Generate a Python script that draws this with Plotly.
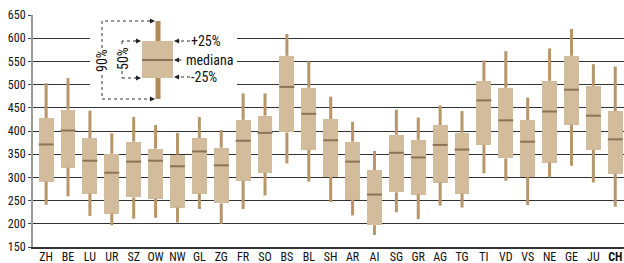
import plotly.graph_objects as go

cats = ["ZH","BE","LU","UR","SZ","OW","NW","GL","ZG","FR","SO","BS","BL","SH","AR","AI","SG","GR","AG","TG","TI","VD","VS","NE","GE","JU","CH"]
p05 = [241,259,217,197,211,213,203,232,200,232,261,330,291,247,218,176,225,210,239,235,309,293,240,300,325,289,237]
q1  = [291,321,265,222,257,254,235,265,244,293,310,397,359,301,252,197,268,263,289,265,370,341,301,332,414,359,308]
med = [371,401,336,310,334,336,324,356,326,379,396,495,437,380,334,263,353,343,370,360,466,423,377,442,489,433,382]
q3  = [428,446,385,351,377,362,349,385,364,424,433,562,493,426,377,316,392,381,413,396,508,493,424,508,562,497,443]
p95 = [503,514,444,395,430,413,396,430,402,481,481,609,550,474,420,357,446,429,455,443,552,572,472,578,620,544,539]
ticktext = [c if c != "CH" else "<b>CH</b>" for c in cats]
yticks = [150,200,250,300,350,400,450,500,550,600,650]

BOX = "#d3bc9c"
WHISK = "#b9966a"
MED = "#8c7355"
FONT = "Liberation Sans Narrow, Roboto Condensed, Arial Narrow, Liberation Sans, sans-serif"

xs = list(range(len(cats)))
BW = 0.68

fig = go.Figure()
wx, wy = [], []
for i in xs:
    wx += [i, i, None, i, i, None]
    wy += [p05[i], q1[i], None, q3[i], p95[i], None]
fig.add_trace(go.Scatter(x=wx, y=wy, mode="lines", line=dict(color=WHISK, width=3),
                         hoverinfo="skip", showlegend=False))
fig.add_trace(go.Bar(x=xs, base=q1, y=[b - a for a, b in zip(q1, q3)], width=BW,
                     marker=dict(color=BOX, line=dict(width=0)), showlegend=False))
mx, my = [], []
for i in xs:
    mx += [i - BW / 2, i + BW / 2, None]
    my += [med[i], med[i], None]
fig.add_trace(go.Scatter(x=mx, y=my, mode="lines", line=dict(color=MED, width=2),
                         hoverinfo="skip", showlegend=False))

# ---- key diagram (pixel layout -> paper coords) ----
L, R, T, B = 33, 624, 15, 247
def px(x): return (x - L) / (R - L)
def py(y): return (B - y) / (B - T)

shapes = []
annos = []
shapes.append(dict(type="rect", xref="paper", yref="paper", x0=px(90), x1=px(237), y0=py(104), y1=py(18),
                   fillcolor="white", line=dict(width=0), layer="above"))
shapes.append(dict(type="line", xref="paper", yref="paper", x0=px(158), x1=px(158), y0=py(99), y1=py(21),
                   line=dict(color="#b08a5a", width=5), layer="above"))
shapes.append(dict(type="rect", xref="paper", yref="paper", x0=px(142), x1=px(173), y0=py(78), y1=py(41),
                   fillcolor=BOX, line=dict(width=0), layer="above"))
shapes.append(dict(type="line", xref="paper", yref="paper", x0=px(142), x1=px(173), y0=py(60), y1=py(60),
                   line=dict(color=MED, width=2), layer="above"))
def dotted(pts):
    for (x0, y0), (x1, y1) in zip(pts[:-1], pts[1:]):
        shapes.append(dict(type="line", xref="paper", yref="paper", x0=px(x0), x1=px(x1), y0=py(y0), y1=py(y1),
                           line=dict(color="#333", width=1, dash="dot"), layer="above"))
dotted([(150, 21), (102, 21), (102, 99), (150, 99)])
dotted([(136, 41), (122, 41), (122, 78), (136, 78)])
dotted([(190, 41), (178, 41)])
dotted([(190, 77), (178, 77)])

def head(x, y, dx):
    annos.append(dict(xref="paper", yref="paper", x=px(x), y=py(y), ax=dx, ay=0, text="",
                      showarrow=True, arrowhead=2, arrowsize=1, arrowwidth=1, arrowcolor="#222"))
head(155, 21, -7)
head(155, 99, -7)
head(141, 41, -7)
head(141, 78, -7)
head(174, 41, 7)
head(174, 60, 9)
head(174, 77, 7)

def label(x, y, t, angle=0, xanchor="left", bg=None, size=13):
    annos.append(dict(xref="paper", yref="paper", x=px(x), y=py(y), text=t, showarrow=False,
                      xanchor=xanchor, yanchor="middle", textangle=angle,
                      font=dict(family=FONT, size=size, color="#111"),
                      bgcolor=bg if bg else "rgba(0,0,0,0)", borderpad=0))
label(102, 61, "90%", angle=-90, xanchor="center", bg="white", size=14)
label(123, 59, "50%", angle=-90, xanchor="center", bg="white", size=14)
label(190, 41, "+25%", size=14)
label(185, 60, "mediana", size=14)
label(190, 77, "-25%", size=14)

fig.update_layout(
    width=624, height=263,
    margin=dict(l=L, r=624 - R, t=T, b=263 - B),
    paper_bgcolor="white", plot_bgcolor="white",
    bargap=0, showlegend=False,
    font=dict(family=FONT, size=12, color="#111"),
    shapes=shapes, annotations=annos,
    xaxis=dict(range=[-0.6, 26.4], tickmode="array", tickvals=xs, ticktext=ticktext,
               showgrid=False, showline=True, linecolor="#333", linewidth=1.5,
               ticks="", zeroline=False, tickfont=dict(size=12), automargin=False,
               ticklabelstandoff=-2),
    yaxis=dict(range=[150, 650], tickmode="array", tickvals=yticks,
               showgrid=True, gridcolor="#333", gridwidth=1,
               showline=True, linecolor="#999", linewidth=2,
               ticks="outside", ticklen=3, tickcolor="#444",
               zeroline=False, tickfont=dict(size=12), automargin=False),
)

fig.write_html("out.html", config={"displayModeBar": False, "staticPlot": True},
               post_script="document.body.style.margin='0';document.body.style.overflow='hidden';")
